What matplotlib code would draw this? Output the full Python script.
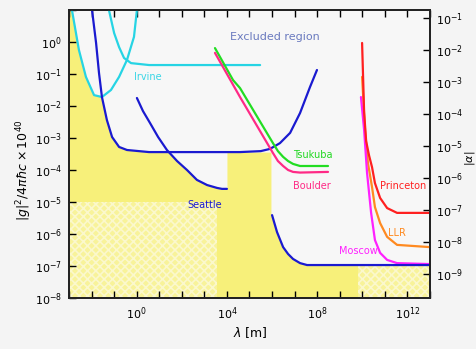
import numpy as np
import matplotlib
matplotlib.use("Agg")
import matplotlib.pyplot as plt
from matplotlib.ticker import NullLocator

# curves as (log10 lambda, log10 |g|^2/4pi hbar c x 1e40)
irvine1_x = [-2.87, -2.56, -2.25, -1.89, -1.54, -1.14, -0.78, -0.43, -0.12, 0.01]
irvine1_y = [1.0, -0.25, -1.09, -1.66, -1.72, -1.5, -1.09, -0.56, 0.16, 1.0]
irvine2_x = [-1.23, -1.0, -0.78, -0.56, -0.25, 0.55, 5.47]
irvine2_y = [1.0, 0.28, -0.16, -0.5, -0.66, -0.72, -0.72]

seattleA_x = [-1.98, -1.80, -1.67, -1.54, -1.32, -1.09, -0.78, -0.43, 0.55, 4.58, 5.5,
              5.91, 6.35, 6.80, 7.24, 7.68, 7.99]
seattleA_y = [1.0, -0.03, -0.97, -1.72, -2.44, -2.97, -3.28, -3.375, -3.44, -3.44, -3.41,
              -3.34, -3.16, -2.84, -2.22, -1.41, -0.875]
seattle_x = [0.01, 0.28, 0.59, 0.95, 1.34, 1.79, 2.23, 2.67, 3.12, 3.56, 3.78, 4.0]
seattle_y = [-1.75, -2.16, -2.53, -2.97, -3.375, -3.72, -4.0, -4.31, -4.47, -4.56, -4.59, -4.59]
lowblue_x = [6.0, 6.22, 6.49, 6.71, 6.93, 7.24, 7.55, 13.0]
lowblue_y = [-5.41, -5.94, -6.41, -6.625, -6.78, -6.91, -6.97, -6.97]

tsukuba_x = [3.47, 4.27, 4.58, 6.04, 6.26, 6.49, 6.71, 6.93, 7.24, 8.48]
tsukuba_y = [-0.19, -1.19, -1.44, -3.16, -3.41, -3.59, -3.72, -3.81, -3.875, -3.875]
boulder_x = [3.47, 4.58, 6.04, 6.26, 6.49, 6.71, 6.93, 7.24, 8.48]
boulder_y = [-0.34, -1.72, -3.47, -3.72, -3.875, -4.0, -4.06, -4.08, -4.06]

princeton_x = [9.99, 10.08, 10.17, 10.3, 10.43, 10.56, 10.79, 11.1, 11.54, 13.0]
princeton_y = [-0.03, -2.2, -3.1, -3.55, -3.91, -4.41, -4.875, -5.19, -5.34, -5.34]
llr_x = [9.99, 10.12, 10.25, 10.43, 10.56, 10.79, 11.1, 11.54, 13.0]
llr_y = [-1.09, -2.75, -3.78, -4.53, -5.16, -5.66, -6.09, -6.34, -6.41]
moscow_x = [9.94, 10.08, 10.21, 10.39, 10.56, 10.79, 11.1, 11.54, 13.0]
moscow_y = [-1.72, -2.75, -4.09, -5.34, -6.19, -6.59, -6.81, -6.91, -6.94]

# edge of the yellow excluded region
excl_x = [-3.0, -2.87, -2.56, -2.25, -1.89, -1.56, -1.32, -1.09, -0.78, -0.43, 0.55, 1.42,
          1.79, 2.23, 2.67, 3.12, 3.56, 4.0, 4.0, 5.95, 5.95, 6.22, 6.49, 6.71, 6.93,
          7.24, 7.55, 13.0]
excl_y = [1.0, 1.0, -0.25, -1.09, -1.66, -1.71, -2.44, -2.97, -3.28, -3.375, -3.44, -3.44,
          -3.72, -4.0, -4.31, -4.47, -4.56, -4.59, -3.44, -3.44, -5.41, -5.94, -6.41, -6.625,
          -6.78, -6.91, -6.97, -6.97]

curve_labels = ["Irvine", "Seattle", "Tsukuba", "Boulder", "Princeton", "LLR", "Moscow"]
label_x = [0.50, 3.03, 7.82, 7.77, 11.8, 11.54, 9.81]
label_y = [-1.09, -5.09, -3.53, -4.5, -4.5, -5.97, -6.53]
label_colors = ["#3ad6e6", "#1a1ad0", "#22d822", "#ff2a86", "#ff2020", "#ff8a20", "#ff20ff"]

yellow = "#f7f07a"
cyan = "#26d4e4"
blue = "#1a1ad0"

fig = plt.figure(figsize=(4.77, 3.49), dpi=100, facecolor="#f4f4f4")
ax = fig.add_axes([69/477, 51/349, 361/477, 288/349])
ax.set_facecolor("#f7f7f7")
ax.set_xscale("log")
ax.set_yscale("log")
ax.set_xlim(1e-3, 1e13)
ax.set_ylim(1e-8, 1e1)

p = lambda a: 10.0 ** np.array(a)

ax.fill_between(p(excl_x), p(excl_y), 1e-8, color=yellow, lw=0, zorder=1)
# checkered parts
plt.rcParams["hatch.linewidth"] = 1.2
ax.fill_between(p([-3.0, 3.56]), 1e-5, 1e-8, facecolor="#f8f39a", edgecolor="#fbf8cc",
                hatch="xxxx", lw=0, zorder=1.5)
ax.fill_between(p([9.8, 13.0]), p([-6.97, -6.97]), 1e-8, facecolor="#f8f39a",
                edgecolor="#fbf8cc", hatch="xxxx", lw=0, zorder=1.5)

lw = 1.6
kw = dict(lw=lw, zorder=3, solid_joinstyle="round", solid_capstyle="round")
ax.plot(p(irvine1_x), p(irvine1_y), color=cyan, **kw)
ax.plot(p(irvine2_x), p(irvine2_y), color=cyan, **kw)
ax.plot(p(seattleA_x), p(seattleA_y), color=blue, **kw)
ax.plot(p(seattle_x), p(seattle_y), color=blue, **kw)
ax.plot(p(tsukuba_x), p(tsukuba_y), color="#22dd22", **kw)
ax.plot(p(boulder_x), p(boulder_y), color="#ff2a86", **kw)
ax.plot(p(llr_x), p(llr_y), color="#ff8a20", **kw)
ax.plot(p(moscow_x), p(moscow_y), color="#ff20ff", **kw)
ax.plot(p(princeton_x), p(princeton_y), color="#ff2020", **kw)
ax.plot(p(lowblue_x), p(lowblue_y), color=blue, **kw)

for t, x, y, c in zip(curve_labels, label_x, label_y, label_colors):
    ax.text(10**x, 10**y, t, color=c, fontsize=7, ha="center", va="center", zorder=4)
ax.text(10**6.13, 10**0.16, "Excluded region", color="#6a7abf", fontsize=8,
        ha="center", va="center")

# ticks
xt = list(range(-3, 14))
ax.set_xticks([10.0**k for k in xt])
ax.set_xticklabels([f"$10^{{{k}}}$" if k in (0, 4, 8, 12) else "" for k in xt])
yt = list(range(-8, 2))
ax.set_yticks([10.0**k for k in yt])
ax.set_yticklabels([f"$10^{{{k}}}$" if k <= 0 else "" for k in yt])
ax.xaxis.set_minor_locator(NullLocator())
ax.yaxis.set_minor_locator(NullLocator())
ax.tick_params(direction="in", length=5, width=1, labelsize=8, top=True, right=False, pad=5)

ax2 = ax.twinx()
ax2.set_yscale("log")
ax2.set_ylim(10**-9.75, 10**-0.75)
rt = list(range(-9, 0))
ax2.set_yticks([10.0**k for k in rt])
ax2.set_yticklabels([f"$10^{{{k}}}$" for k in rt])
ax2.yaxis.set_minor_locator(NullLocator())
ax2.tick_params(direction="in", length=5, width=1, labelsize=8, pad=4)

for a in (ax, ax2):
    for s in a.spines.values():
        s.set_linewidth(1.3)
        s.set_color("#222222")

fig.text(24/477, 1 - 170/349, r"$|g|^2/4\pi\hbar c\times10^{40}$", rotation=90,
         ha="center", va="center", fontsize=9)
fig.text(470/477, 1 - 158/349, r"$|\alpha|$", rotation=90, ha="center", va="center", fontsize=8)
fig.text(250/477, 1 - 333/349, r"$\lambda$ [m]", ha="center", va="center", fontsize=9)

fig.savefig("out.png", dpi=100, facecolor=fig.get_facecolor())
